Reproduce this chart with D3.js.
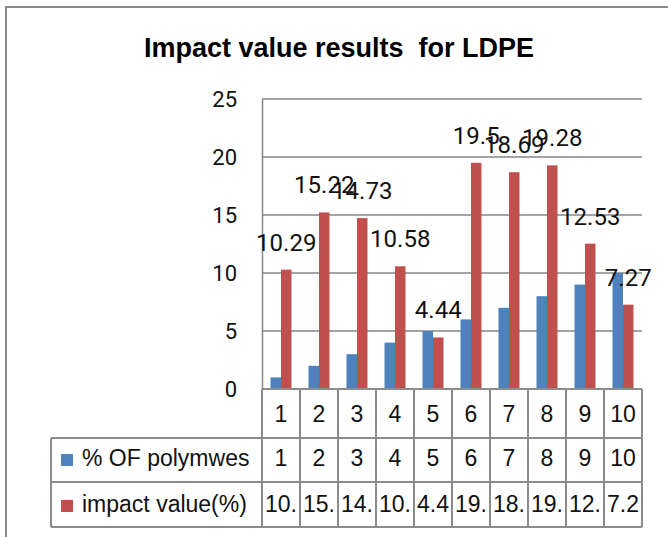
<!DOCTYPE html>
<html>
<head>
<meta charset="utf-8">
<script src="https://cdn.jsdelivr.net/npm/d3@7"></script>
<style>
  body { margin: 0; background: #fff; }
  svg { display: block; }
</style>
</head>
<body>
<div id="chart"></div>
<script>
// data
var categories = ["1", "2", "3", "4", "5", "6", "7", "8", "9", "10"];
var seriesNames = ["% OF polymwes", "impact value(%)"];
var polymers = [1, 2, 3, 4, 5, 6, 7, 8, 9, 10];
var impact = [10.29, 15.22, 14.73, 10.58, 4.44, 19.5, 18.69, 19.28, 12.53, 7.27];
var yTicks = [0, 5, 10, 15, 20, 25];
var colors = ["#4F81BD", "#C0504D"];

var W = 668, H = 537;
var plot = { left: 262, right: 642, top: 99, bottom: 389 };
var rowY = [389, 438, 482, 527];   // table row edges
var legendLeft = 51;
var gridColor = "#868686";

var svg = d3.select("#chart").append("svg")
    .attr("width", W)
    .attr("height", H);

// chart frame (runs off the right and bottom edge)
svg.append("rect")
    .attr("x", 6).attr("y", 7)
    .attr("width", W + 20).attr("height", H + 20)
    .attr("fill", "none")
    .attr("stroke", "#8a8a8a")
    .attr("stroke-width", 2);

// title
svg.append("text")
    .attr("x", 339)
    .attr("y", 57)
    .attr("text-anchor", "middle")
    .style("font-family", "'Liberation Sans', Arial, sans-serif")
    .style("font-weight", "bold")
    .style("font-size", "27px")
    .style("white-space", "pre")
    .text("Impact value results  for LDPE");

// scales
var x = d3.scaleBand()
    .domain(categories)
    .range([plot.left, plot.right])
    .padding(0);

var xs = d3.scaleBand()
    .domain([0, 1])
    .range([0, x.bandwidth()])
    .paddingInner(0)
    .paddingOuter(0.81);

var y = d3.scaleLinear()
    .domain([0, 25])
    .range([plot.bottom, plot.top]);

// gridlines
svg.append("g")
    .selectAll("line")
    .data(yTicks.filter(function(d) { return d > 0; }))
    .enter()
    .append("line")
    .attr("x1", plot.left).attr("x2", plot.right)
    .attr("y1", function(d) { return y(d); })
    .attr("y2", function(d) { return y(d); })
    .attr("stroke", gridColor)
    .attr("stroke-width", 1.5);

// y axis
var yAxis = svg.append("g")
    .attr("transform", "translate(" + plot.left + ",0)")
    .call(d3.axisLeft(y).tickValues(yTicks).tickSize(0).tickPadding(25));
yAxis.select(".domain").attr("stroke", gridColor).attr("stroke-width", 1.5);
yAxis.selectAll("text")
    .style("font-family", "Roboto, 'Noto Sans', sans-serif")
    .style("font-size", "22px")
    .attr("fill", "#111")
    .attr("dy", "0.36em");

// bars
var series = [polymers, impact];
series.forEach(function(vals, s) {
    svg.append("g")
        .selectAll("rect")
        .data(vals)
        .enter()
        .append("rect")
        .attr("x", function(d, i) { return x(categories[i]) + xs(s); })
        .attr("y", function(d) { return y(d); })
        .attr("width", xs.bandwidth())
        .attr("height", function(d) { return y(0) - y(d); })
        .attr("fill", colors[s]);
});

// data labels on the impact series only
svg.append("g")
    .selectAll("text")
    .data(impact)
    .enter()
    .append("text")
    .attr("x", function(d, i) { return x(categories[i]) + xs(1) + xs.bandwidth() / 2; })
    .attr("y", function(d) { return y(d) - 19; })
    .attr("text-anchor", "middle")
    .style("font-family", "Roboto, 'Noto Sans', sans-serif")
    .style("font-size", "24px")
    .attr("fill", "#111")
    .text(function(d) { return d; });

// ---------------------------//
//        DATA TABLE          //
// ---------------------------//
var tableFont = "'Liberation Sans', Arial, sans-serif";
var tableSize = "23px";
var table = svg.append("g");

// horizontal lines
table.append("line")
    .attr("x1", plot.left).attr("x2", plot.right)
    .attr("y1", rowY[0]).attr("y2", rowY[0]);
[1, 2, 3].forEach(function(r) {
    table.append("line")
        .attr("x1", legendLeft).attr("x2", plot.right)
        .attr("y1", rowY[r]).attr("y2", rowY[r]);
});
// vertical lines
var edges = categories.map(function(c) { return x(c); }).concat([plot.right]);
table.selectAll(".vline")
    .data(edges)
    .enter()
    .append("line")
    .attr("x1", function(d) { return d; })
    .attr("x2", function(d) { return d; })
    .attr("y1", rowY[0]).attr("y2", rowY[3]);
table.append("line")
    .attr("x1", legendLeft).attr("x2", legendLeft)
    .attr("y1", rowY[1]).attr("y2", rowY[3]);
table.selectAll("line")
    .attr("stroke", "#8c8c8c")
    .attr("stroke-width", 2);

// cell texts, cut down to what fits in a column like Excel does
function cellText(g, vals, baseline) {
    g.selectAll(null)
        .data(vals)
        .enter()
        .append("text")
        .attr("x", function(d, i) { return x(categories[i]) + x.bandwidth() / 2; })
        .attr("y", baseline)
        .attr("text-anchor", "middle")
        .style("font-family", tableFont)
        .style("font-size", tableSize)
        .attr("fill", "#111")
        .text(function(d) { return d; })
        .each(function(d) {
            var t = d3.select(this), s = String(d);
            while (s.length > 1 && this.getComputedTextLength() > x.bandwidth() - 2) {
                s = s.slice(0, -1);
                t.text(s);
            }
        });
}
cellText(table, categories, 422);
cellText(table, polymers, 466);
cellText(table, impact, 512);

// legend keys in the table
var legendBase = [466, 512];
seriesNames.forEach(function(name, s) {
    table.append("rect")
        .attr("x", 61)
        .attr("y", legendBase[s] - 12)
        .attr("width", 12)
        .attr("height", 12)
        .attr("fill", colors[s]);
    table.append("text")
        .attr("x", 82)
        .attr("y", legendBase[s])
        .style("font-family", tableFont)
        .style("font-size", tableSize)
        .attr("fill", "#111")
        .text(name);
});
</script>
</body>
</html>
